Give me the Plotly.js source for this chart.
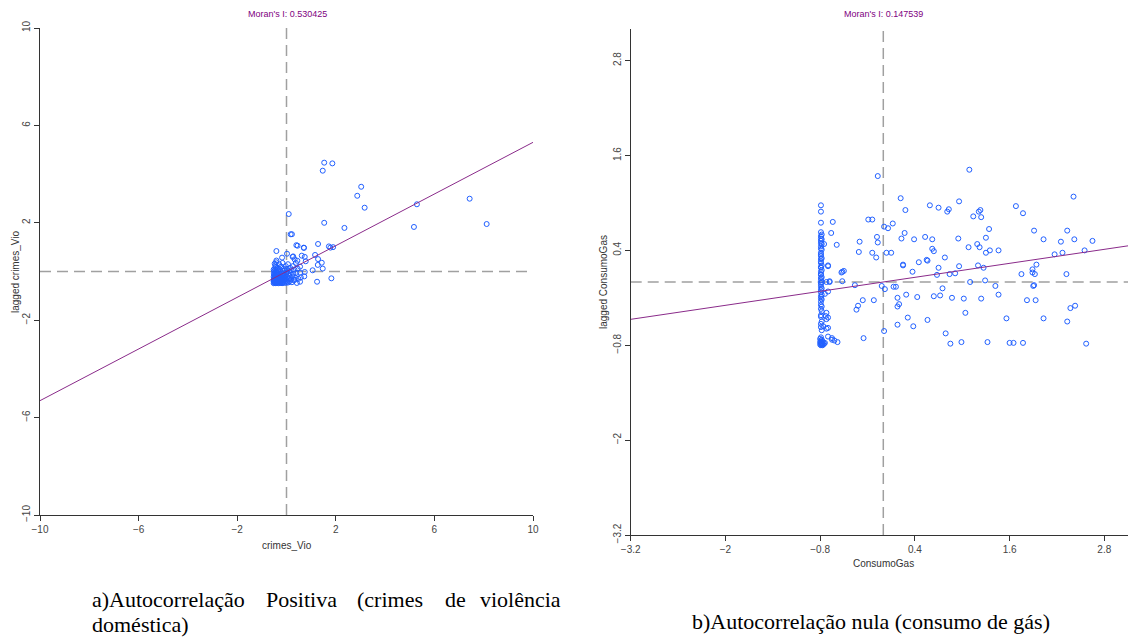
<!DOCTYPE html>
<html>
<head>
<meta charset="utf-8">
<script src="https://cdn.plot.ly/plotly-3.0.1.min.js"></script>
<style>html,body{margin:0;padding:0;background:#fff;}#chart{width:1128px;height:637px;}</style>
</head>
<body>
<div id="chart"></div>
<script>
// ---------- Panel a: crimes_Vio ----------
const moranA = 0.530425;
const ticksA = [-10, -6, -2, 2, 6, 10];
const rangeA = [-10, 10];

// sparse points (x = crimes_Vio, y = lagged crimes_Vio)
const vioSpreadX = [1.53, 1.86, 1.47, 3.03, 2.87, 3.17, 7.43, 5.29, 8.12, 5.17,
  0.09, 1.53, 2.35, 0.17, 0.22, -0.41, 0.45, 0.71, 1.28, 1.72,
  1.89, 1.78, 0.02, 0.25, 0.62, 0.74, 1.16, 1.28, 1.43, 1.27,
  1.47, 1.06, 0.78, 0.33, 0.44, 0.55, 0.74, 0.55, 0.72, 0.58,
  0.33, 0.55, 1.82, 1.24, -0.18, 0.40, 0.70, 0.27];
const vioSpreadY = [4.47, 4.44, 4.14, 3.48, 3.11, 2.62, 2.99, 2.76, 1.95, 1.83,
  2.36, 2.00, 1.79, 1.53, 1.53, 0.84, 1.06, 0.97, 1.13, 1.03,
  1.00, 0.98, 0.73, 0.60, 0.65, 0.60, 0.68, 0.51, 0.36, 0.27,
  0.12, 0.05, 0.42, 0.50, 0.44, 0.20, -0.02, -0.05, -0.20, -0.24,
  -0.34, -0.42, -0.28, -0.42, 0.57, 1.08, 0.98, 0.62];

// dense cluster near the origin
const vioBlobX = [-0.52, -0.51, -0.52, -0.50, -0.52, -0.49, -0.51, -0.50, -0.48, -0.47,
  -0.46, -0.45, -0.47, -0.44, -0.45, -0.43, -0.42, -0.41, -0.40, -0.42,
  -0.39, -0.38, -0.37, -0.36, -0.35, -0.34, -0.33, -0.32, -0.31, -0.30,
  -0.29, -0.28, -0.27, -0.26, -0.25, -0.24, -0.23, -0.22, -0.21, -0.20,
  -0.19, -0.18, -0.17, -0.16, -0.15, -0.14, -0.13, -0.12, -0.11, -0.10,
  -0.09, -0.08, -0.07, -0.06, -0.05, -0.04, -0.03, -0.02, -0.01, 0.00,
  0.01, 0.02, 0.03, 0.05, 0.06, 0.07, 0.09, 0.10, 0.12, 0.13,
  0.15, 0.17, 0.18, 0.20, 0.22, 0.24, 0.26, 0.28, 0.30, 0.32,
  0.35, 0.38, 0.40, 0.42, 0.45, 0.48, -0.52, -0.50, -0.48, -0.46,
  -0.44, -0.49, -0.43, -0.40, -0.38, -0.36, -0.34, -0.31, -0.29, -0.27,
  -0.24, -0.22, -0.20, -0.17, -0.15, -0.12, -0.50, -0.46, -0.52, -0.44,
  -0.38, -0.33, -0.48, -0.41];
const vioBlobY = [-0.48, -0.42, -0.35, -0.30, -0.22, -0.15, -0.08, 0.02, 0.12, -0.46,
  -0.38, -0.27, -0.19, -0.05, 0.25, -0.44, -0.33, -0.12, 0.05, 0.38,
  -0.47, -0.25, -0.40, -0.16, 0.15, -0.31, -0.48, -0.02, -0.22, 0.30,
  -0.41, -0.10, -0.35, 0.08, -0.46, -0.18, -0.28, 0.20, -0.40, -0.05,
  -0.33, -0.48, -0.14, 0.35, -0.25, 0.02, -0.43, -0.20, 0.12, -0.36,
  -0.08, -0.47, -0.28, 0.05, -0.15, -0.40, 0.22, -0.32, -0.05, -0.46,
  -0.22, 0.10, -0.38, -0.12, 0.30, -0.45, -0.28, 0.02, -0.18, -0.40,
  0.15, -0.08, -0.33, 0.05, -0.44, -0.20, 0.22, -0.10, -0.36, 0.08,
  -0.25, 0.35, -0.05, -0.47, 0.12, -0.30, -0.40, -0.44, -0.36, -0.48,
  -0.30, -0.25, -0.20, -0.45, -0.35, -0.28, -0.44, -0.38, -0.26, -0.47,
  -0.38, -0.30, -0.44, -0.36, -0.46, -0.30, -0.12, 0.00, 0.08, 0.18,
  -0.05, 0.05, 0.32, 0.45];

// ---------- Panel b: ConsumoGas ----------
const moranB = 0.147539;
const ticksB = [-3.2, -2, -0.8, 0.4, 1.6, 2.8];
const rangeBx = [-3.2, 3.1];
const rangeBy = [-3.2, 3.2];

const gasSpreadX = [-0.07, 1.09, 2.41, 0.22, 0.28, 0.59, 0.70, 0.81, 0.83, 0.96,
  1.14, 1.21, 1.23, 1.24, 1.68, 1.77, -0.19, -0.14, 0.01, 0.06,
  0.12, -0.30, -0.31, -0.08, -0.07, -0.14, -0.09, 0.04, 0.10, 0.23,
  0.27, 0.39, 0.53, 0.62, 0.62, 0.64, 0.78, 0.95, 1.08, 1.19,
  1.22, 1.30, 1.34, 1.30, 1.35, 1.46, 1.91, 2.03, 2.33, 2.25,
  2.42, 2.65, 2.55, 2.17, 2.27, 1.94, 1.89, 1.89, 1.92, 1.75,
  2.32, 0.45, 0.25, 0.25, 0.55, 0.56, 0.70, 0.68, 0.84, 0.91,
  0.96, 1.27, 1.20, 0.37, -0.36, -0.02, 0.02, 0.13, 0.16, 1.10,
  1.29, 1.42, 0.75, 1.90, 1.91, 0.29, 0.18, 0.43, 0.64, 0.72,
  0.87, 1.02, 1.24, 1.46, 1.82, 1.93, 2.43, 2.37, -0.12, -0.26,
  -0.32, -0.34, 0.20, 0.18, 1.04, 0.31, 0.56, 1.56, 2.03, 2.33,
  0.18, 0.38, 0.01, 0.79, -0.25, 0.85, 0.99, 1.32, 1.60, 1.65,
  1.77, 2.57];
const gasSpreadY = [1.34, 1.42, 1.08, 1.06, 0.91, 0.97, 0.94, 0.89, 0.92, 1.02,
  0.83, 0.89, 0.91, 0.82, 0.96, 0.87, 0.79, 0.79, 0.70, 0.68,
  0.74, 0.51, 0.38, 0.57, 0.50, 0.37, 0.31, 0.37, 0.37, 0.55,
  0.62, 0.54, 0.57, 0.54, 0.42, 0.39, 0.31, 0.55, 0.44, 0.48,
  0.44, 0.56, 0.67, 0.37, 0.40, 0.40, 0.65, 0.54, 0.65, 0.51,
  0.54, 0.52, 0.40, 0.35, 0.37, 0.22, 0.16, 0.12, 0.10, 0.10,
  0.10, 0.25, 0.21, 0.22, 0.28, 0.27, 0.18, 0.09, 0.10, 0.11,
  0.20, 0.18, 0.21, 0.13, -0.04, -0.05, -0.09, -0.06, -0.06, 0.00,
  0.02, -0.05, -0.08, -0.05, -0.04, -0.16, -0.20, -0.19, -0.18, -0.17,
  -0.20, -0.21, -0.21, -0.16, -0.23, -0.23, -0.30, -0.33, -0.23, -0.23,
  -0.30, -0.35, -0.28, -0.31, -0.39, -0.45, -0.48, -0.46, -0.46, -0.50,
  -0.54, -0.56, -0.62, -0.65, -0.71, -0.78, -0.76, -0.76, -0.77, -0.77,
  -0.77, -0.78];

// municipalities at the minimum consumption (vertical column) and neighbours
const gasColumnX = [-0.79, -0.79, -0.79, -0.79, -0.78, -0.79, -0.79, -0.78, -0.79, -0.79,
  -0.78, -0.79, -0.79, -0.78, -0.79, -0.79, -0.79, -0.78, -0.79, -0.79,
  -0.79, -0.78, -0.79, -0.79, -0.78, -0.79, -0.79, -0.79, -0.78, -0.79,
  -0.79, -0.78, -0.79, -0.79, -0.79, -0.78, -0.79, -0.79, -0.78, -0.79,
  -0.79, -0.78, -0.79, -0.79, -0.78, -0.79, -0.78, -0.79, -0.79, -0.78,
  -0.79, -0.79, -0.78, -0.79, -0.80, -0.78, -0.79, -0.77, -0.80, -0.78,
  -0.79, -0.77, -0.80, -0.78, -0.79, -0.77,
  -0.64, -0.66, -0.59, -0.70, -0.53, -0.50, -0.52, -0.68, -0.72, -0.52,
  -0.70, -0.74, -0.72, -0.70, -0.73, -0.72, -0.76, -0.70, -0.72, -0.65,
  -0.62, -0.58, -0.65, -0.70, -0.70, -0.68, -0.75, -0.75, -0.74, -0.76];
const gasColumnY = [0.97, 0.89, 0.75, 0.63, 0.60, 0.58, 0.55, 0.54, 0.52, 0.49,
  0.48, 0.45, 0.42, 0.41, 0.37, 0.35, 0.33, 0.30, 0.29, 0.26,
  0.24, 0.21, 0.19, 0.18, 0.15, 0.13, 0.10, 0.09, 0.06, 0.05,
  0.02, 0.00, -0.01, -0.03, -0.06, -0.08, -0.10, -0.13, -0.16, -0.18,
  -0.21, -0.22, -0.25, -0.29, -0.31, -0.34, -0.37, -0.42, -0.44, -0.50,
  -0.53, -0.57, -0.61, -0.70, -0.72, -0.73, -0.74, -0.75, -0.76, -0.77,
  -0.77, -0.78, -0.79, -0.79, -0.80, -0.80,
  0.76, 0.62, 0.47, 0.21, 0.12, 0.14, 0.13, 0.00, 0.00, 0.01,
  -0.12, -0.15, -0.39, -0.45, -0.43, -0.47, -0.56, -0.58, -0.59, -0.71,
  -0.74, -0.76, -0.73, -0.69, 0.20, 0.01, 0.48, -0.78, -0.77, -0.79];

// ---------- texts ----------
const titleA = "Moran's I: 0.530425";
const titleB = "Moran's I: 0.147539";
const xTitleA = 'crimes_Vio', yTitleA = 'lagged crimes_Vio';
const xTitleB = 'ConsumoGas', yTitleB = 'lagged ConsumoGas';
const captionA1 = ['a)Autocorrelação', 'Positiva', '(crimes', 'de', 'violência'];
const captionA2 = 'doméstica)';
const captionB = 'b)Autocorrelação nula (consumo de gás)';

// ---------- build ----------
const W = 1128, H = 637;
const px = v => v / W;
const py = v => 1 - v / H;

const markerStyle = {symbol: 'circle-open', size: 5, color: '#2160ff', line: {width: 1, color: '#2160ff'}};
const lineColor = '#8a2b8a';

const traces = [
  {x: vioBlobX.concat(vioSpreadX), y: vioBlobY.concat(vioSpreadY), mode: 'markers', type: 'scatter',
   marker: markerStyle, xaxis: 'x', yaxis: 'y'},
  {x: rangeA, y: rangeA.map(v => moranA * v), mode: 'lines', type: 'scatter',
   line: {color: lineColor, width: 1}, xaxis: 'x', yaxis: 'y'},
  {x: gasColumnX.concat(gasSpreadX), y: gasColumnY.concat(gasSpreadY), mode: 'markers', type: 'scatter',
   marker: markerStyle, xaxis: 'x2', yaxis: 'y2'},
  {x: rangeBx, y: rangeBx.map(v => moranB * v), mode: 'lines', type: 'scatter',
   line: {color: lineColor, width: 1}, xaxis: 'x2', yaxis: 'y2'}
];

const tickFont = {family: 'Liberation Sans, Arial, sans-serif', size: 10, color: '#444'};
function axis(extra) {
  return Object.assign({
    showline: true, linecolor: '#333', linewidth: 1, ticks: 'outside', ticklen: 5,
    tickcolor: '#333', tickwidth: 1, showgrid: false, zeroline: false, tickfont: tickFont,
    fixedrange: true
  }, extra);
}

const dash = {color: '#a0a0a0', width: 1.5, dash: '11px,6px'};
const shapes = [
  {type: 'line', xref: 'x domain', yref: 'y', x0: 0, x1: 1, y0: 0, y1: 0, line: dash, layer: 'below'},
  {type: 'line', xref: 'x', yref: 'y domain', x0: 0, x1: 0, y0: 0, y1: 1, line: dash, layer: 'below'},
  {type: 'line', xref: 'x2 domain', yref: 'y2', x0: 0, x1: 1, y0: 0, y1: 0, line: dash, layer: 'below'},
  {type: 'line', xref: 'x2', yref: 'y2 domain', x0: 0, x1: 0, y0: 0, y1: 1, line: dash, layer: 'below'}
];

const small = {family: 'Liberation Sans, Arial, sans-serif', size: 10, color: '#333'};
const capFont = {family: 'Liberation Serif, Times New Roman, serif', size: 22, color: '#000'};
const annotations = [
  {text: titleA, x: px(287), y: py(14), font: {family: 'Liberation Sans, Arial', size: 9, color: '#800080'}},
  {text: titleB, x: px(883), y: py(14), font: {family: 'Liberation Sans, Arial', size: 9, color: '#800080'}},
  {text: xTitleA, x: px(287), y: py(545), font: small},
  {text: yTitleA, x: px(15), y: py(272), font: small, textangle: -90},
  {text: xTitleB, x: px(883), y: py(563), font: small},
  {text: yTitleB, x: px(603), y: py(282), font: small, textangle: -90},
  {text: captionA2, x: px(90), y: py(624), font: capFont, xanchor: 'left'},
  {text: captionB, x: px(690), y: py(621), font: capFont, xanchor: 'left'}
].map(a => Object.assign({xref: 'paper', yref: 'paper', showarrow: false, xanchor: 'center', yanchor: 'middle'}, a));

// first caption line is justified between x=90 and x=563
const capWordX = [90, 264, 355, 443, 482];
captionA1.forEach((w, i) => annotations.push({
  text: w, xref: 'paper', yref: 'paper', x: px(capWordX[i]), y: py(599), showarrow: false,
  xanchor: i === captionA1.length - 1 ? 'right' : 'left', yanchor: 'middle', font: capFont
}));
annotations[annotations.length - 1].x = px(563);

const layout = {
  width: W, height: H, margin: {l: 0, r: 0, t: 0, b: 0},
  paper_bgcolor: '#fff', plot_bgcolor: '#fff', showlegend: false,
  xaxis: axis({domain: [px(40), px(533)], range: rangeA, tickvals: ticksA, anchor: 'y'}),
  yaxis: axis({domain: [py(515), py(28)], range: rangeA, tickvals: ticksA, tickangle: -90, anchor: 'x'}),
  xaxis2: axis({domain: [px(630.7), 1], range: rangeBx, tickvals: ticksB, anchor: 'y2'}),
  yaxis2: axis({domain: [py(535), py(29)], range: rangeBy, tickvals: ticksB, tickangle: -90, anchor: 'x2'}),
  shapes: shapes,
  annotations: annotations
};

Plotly.newPlot('chart', traces, layout, {displayModeBar: false, staticPlot: true});
</script>
</body>
</html>
